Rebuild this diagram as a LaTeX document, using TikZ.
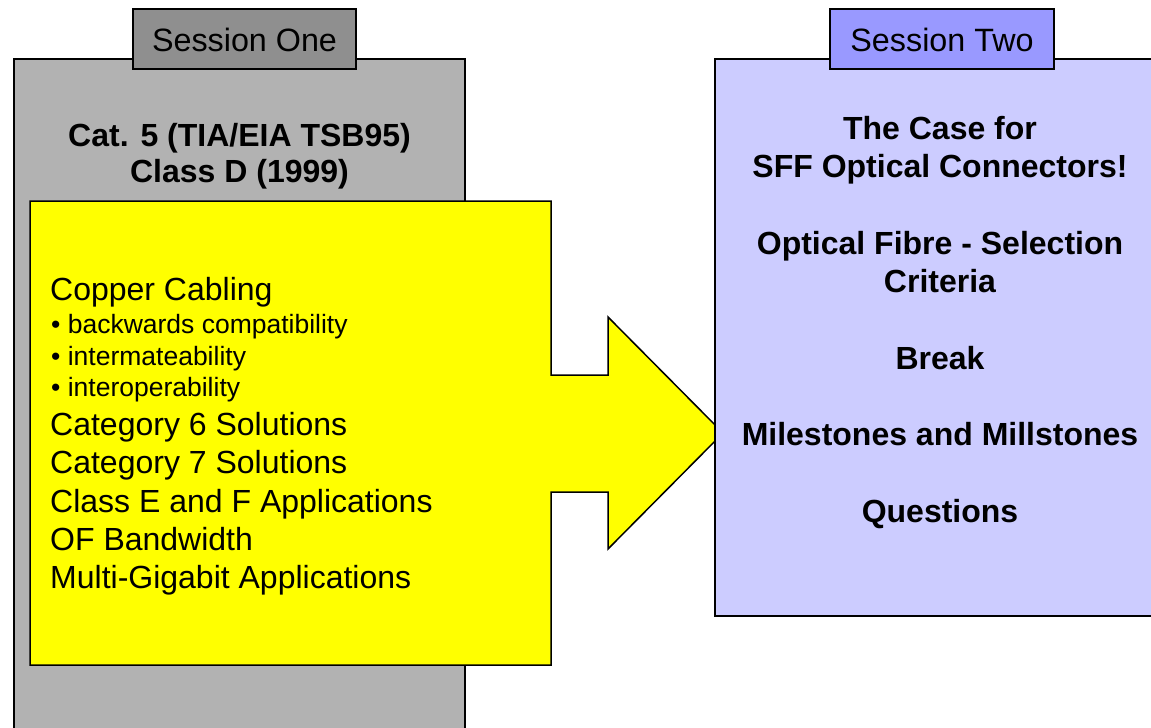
\documentclass[tikz,border=0pt]{standalone}
\usepackage{fontspec}
\setmainfont{Liberation Sans}
\definecolor{panelgray}{HTML}{B2B2B2}
\definecolor{tabgray}{HTML}{8F8F8F}
\definecolor{panelblue}{HTML}{CCCCFF}
\definecolor{tabblue}{HTML}{9999FF}
\definecolor{arrowyellow}{HTML}{FFFF00}
\tikzset{
  outline/.style={draw=black, line width=1.5pt, line join=miter},
  tabtxt/.style={font=\fontsize{32.3}{36}\selectfont, anchor=base, inner sep=0pt},
  headtxt/.style={font=\bfseries\fontsize{32}{36}\selectfont, anchor=base, inner sep=0pt},
  itemtxt/.style={font=\fontsize{32}{36}\selectfont, anchor=base west, inner sep=0pt},
  subtxt/.style={font=\fontsize{26.5}{30}\selectfont, anchor=base west, inner sep=0pt},
}
\begin{document}
\begin{tikzpicture}[x=1pt, y=-1pt]
\clip (0,0) rectangle (1151,728);
\fill[white] (0,0) rectangle (1151,728);
% left panel
\path[outline, fill=panelgray] (14,59) rectangle (465,740);
\path[outline, fill=tabgray] (133,9) rectangle (356,69);
\node[tabtxt] (tabone) at (244.5,51) {Session One};
\node[headtxt] (headA) at (239.5,146) {Cat. 5 (TIA/EIA TSB95)};
\node[headtxt] (headB) at (239.5,182) {Class D (1999)};
% yellow box with arrow
\path[outline, fill=arrowyellow] (30,201) -- (551,201) -- (551,375) -- (608,375) -- (608,317)
  -- (723,433) -- (608,549) -- (608,492) -- (551,492) -- (551,665) -- (30,665) -- cycle;
\node[itemtxt] (it1) at (50,300) {Copper Cabling};
\node[subtxt] (sb1) at (51,333.5) {• backwards compatibility};
\node[subtxt] (sb2) at (51,365) {• intermateability};
\node[subtxt] (sb3) at (51,396.5) {• interoperability};
\node[itemtxt] (it2) at (50,435) {Category 6 Solutions};
\node[itemtxt] (it3) at (50,473) {Category 7 Solutions};
\node[itemtxt] (it4) at (50,512) {Class E and F Applications};
\node[itemtxt] (it5) at (50,550) {OF Bandwidth};
\node[itemtxt] (it6) at (50,588) {Multi-Gigabit Applications};
% right panel
\path[outline, fill=panelblue] (715,59) rectangle (1170,616);
\path[outline, fill=tabblue] (830,9) rectangle (1054,69);
\node[tabtxt] (tabtwo) at (942,51) {Session Two};
\node[headtxt] (r1) at (940,139) {The Case for};
\node[headtxt] (r2) at (940,177) {SFF Optical Connectors!};
\node[headtxt] (r3) at (940,254) {Optical Fibre - Selection};
\node[headtxt] (r4) at (940,292) {Criteria};
\node[headtxt] (r5) at (940,369) {Break};
\node[headtxt] (r6) at (940,445) {Milestones and Millstones};
\node[headtxt] (r7) at (940,522) {Questions};
\end{tikzpicture}
\end{document}
